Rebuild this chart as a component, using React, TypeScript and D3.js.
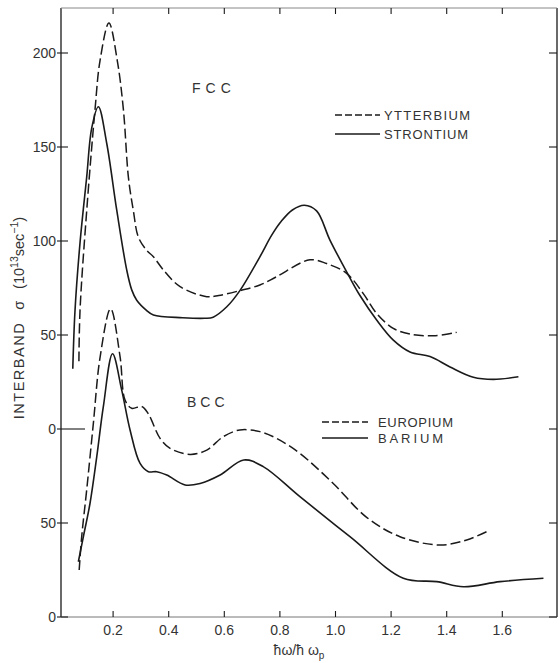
import React from "react";
import * as d3 from "d3";

// Interband conductivity curves, photon energy in units of the plasma energy.
// FCC metals are read against the upper scale, BCC metals against the lower one.
const ytterbium: [number, number][] = [
  [0.077, 36], [0.081, 63], [0.105, 116], [0.135, 170], [0.153, 196], [0.185, 216],
  [0.215, 196], [0.237, 170], [0.255, 134], [0.273, 116], [0.291, 102], [0.321, 95],
  [0.345, 91.6], [0.381, 84.6], [0.441, 75.7], [0.537, 70.4], [0.58, 71], [0.656, 73.6],
  [0.728, 76.6], [0.788, 81], [0.908, 90], [0.968, 88], [1.04, 82.8], [1.1, 72],
  [1.148, 61.5], [1.208, 53.5], [1.268, 50.5], [1.352, 49.6], [1.436, 51.4],
];

const strontium: [number, number][] = [
  [0.055, 32], [0.063, 63], [0.081, 99], [0.105, 134], [0.123, 160], [0.147, 171.4],
  [0.177, 152], [0.213, 116.5], [0.249, 84.6], [0.267, 74], [0.285, 68.5], [0.321, 63],
  [0.345, 60.6], [0.45, 59.2], [0.53, 58.9], [0.56, 59.5], [0.609, 65], [0.656, 73.6],
  [0.728, 91.6], [0.77, 103], [0.805, 110.5], [0.845, 116.5], [0.888, 119], [0.932, 116],
  [0.98, 100.5], [1.046, 82], [1.088, 71], [1.148, 58], [1.208, 47.3], [1.268, 41],
  [1.34, 38.5], [1.412, 33], [1.496, 27.5], [1.568, 26.4], [1.658, 27.8],
];

const europium: [number, number][] = [
  [0.078, 25], [0.087, 42.7], [0.105, 67.6], [0.129, 103], [0.153, 138], [0.191, 164],
  [0.225, 138.5], [0.243, 115.4], [0.267, 111], [0.303, 112], [0.327, 108], [0.369, 95],
  [0.405, 89.7], [0.477, 86.5], [0.537, 88.8], [0.596, 95.9], [0.656, 99.5], [0.728, 98.6],
  [0.788, 95], [0.872, 87], [0.992, 71], [1.112, 53], [1.232, 42.7], [1.376, 38.3],
  [1.472, 41], [1.544, 45.4],
];

const barium: [number, number][] = [
  [0.075, 29.4], [0.093, 42.7], [0.117, 60.5], [0.141, 85], [0.165, 112], [0.198, 140],
  [0.231, 120.7], [0.261, 99.5], [0.297, 81.7], [0.327, 77.3], [0.357, 77.3], [0.393, 75.5],
  [0.459, 70.2], [0.513, 71], [0.585, 75.5], [0.67, 83.5], [0.74, 80], [0.872, 64],
  [1.052, 42.7], [1.244, 20.6], [1.364, 18.8], [1.46, 16.1], [1.592, 18.8], [1.748, 20.6],
];

const xTicks = [0.2, 0.4, 0.6, 0.8, 1.0, 1.2, 1.4, 1.6];
const xTickLabels = ["0.2", "0.4", "0.6", "0.8", "1.0", "1.2", "1.4", "1.6"];
const fccTicks = [0, 50, 100, 150, 200];
const bccTicks = [0, 50];

const W = 560;
const H = 663;
const frame = { left: 61, right: 557, top: 8, bottom: 617 };

const x = d3.scaleLinear().domain([0, 1.6]).range([57.5, 502.3]);
const yFcc = d3.scaleLinear().domain([0, 200]).range([429, 53]);
const yBcc = d3.scaleLinear().domain([0, 50]).range([617, 523]);

const ink = "#1a1a1a";
const font = "'Liberation Sans', Arial, sans-serif";
const dash = "10,4";

function makeLine(y: d3.ScaleLinear<number, number>) {
  return d3
    .line<[number, number]>()
    .x((d) => x(d[0]))
    .y((d) => y(d[1]))
    .curve(d3.curveCatmullRom.alpha(0.5));
}

export default function App() {
  const fccLine = makeLine(yFcc);
  const bccLine = makeLine(yBcc);

  const yTickItems = [
    ...fccTicks.map((v) => ({ y: yFcc(v), label: String(v), long: v === 0 })),
    ...bccTicks.map((v) => ({ y: yBcc(v), label: String(v), long: false })),
  ];

  return (
    <svg
      width={W}
      height={H}
      viewBox={`0 0 ${W} ${H}`}
      style={{ position: "absolute", left: 0, top: 0, background: "#fff" }}
    >
      <rect x={0} y={0} width={W} height={H} fill="#fff" />

      {/* frame */}
      <line x1={frame.left} y1={frame.top} x2={frame.left} y2={frame.bottom} stroke={ink} strokeWidth={1.3} />
      <line x1={frame.right} y1={frame.top} x2={frame.right} y2={frame.bottom} stroke={ink} strokeWidth={1.3} />
      <line x1={frame.left} y1={frame.bottom} x2={frame.right} y2={frame.bottom} stroke="#777" strokeWidth={1} />
      <line x1={frame.left} y1={frame.top} x2={frame.right} y2={frame.top} stroke="#888" strokeWidth={1} />

      {/* x ticks, bottom and top */}
      {xTicks.map((t, i) => (
        <g key={`xt${i}`}>
          <line x1={x(t)} x2={x(t)} y1={frame.bottom} y2={frame.bottom - 6} stroke={ink} strokeWidth={1.1} />
          <line x1={x(t)} x2={x(t)} y1={frame.top} y2={frame.top + 6} stroke={ink} strokeWidth={1.1} />
          <text
            x={x(t)}
            y={frame.bottom + 18}
            textAnchor="middle"
            fontFamily={font}
            fontSize={14}
            fill="#333"
          >
            {xTickLabels[i]}
          </text>
        </g>
      ))}

      {/* y ticks, left and right */}
      {yTickItems.map((t, i) => (
        <g key={`yt${i}`}>
          <line
            x1={frame.left - 4}
            x2={frame.left + (t.long ? 24 : 7)}
            y1={t.y}
            y2={t.y}
            stroke={ink}
            strokeWidth={1.1}
          />
          <line x1={frame.right - 8} x2={frame.right} y1={t.y} y2={t.y} stroke={ink} strokeWidth={1.1} />
          <text
            x={frame.left - 5}
            y={t.y}
            dy="0.36em"
            textAnchor="end"
            fontFamily={font}
            fontSize={14}
            fill="#333"
          >
            {t.label}
          </text>
        </g>
      ))}

      {/* curves */}
      <path d={fccLine(ytterbium) ?? ""} fill="none" stroke={ink} strokeWidth={1.5} strokeDasharray={dash} />
      <path d={fccLine(strontium) ?? ""} fill="none" stroke={ink} strokeWidth={1.6} />
      <path d={bccLine(europium) ?? ""} fill="none" stroke={ink} strokeWidth={1.5} strokeDasharray={dash} />
      <path d={bccLine(barium) ?? ""} fill="none" stroke={ink} strokeWidth={1.6} />

      {/* panel names */}
      <text x={192} y={88} dy="0.36em" fontFamily={font} fontSize={14} letterSpacing={5} fill="#333">
        FCC
      </text>
      <text x={187} y={402} dy="0.36em" fontFamily={font} fontSize={14} letterSpacing={4} fill="#333">
        BCC
      </text>

      {/* legends */}
      <line x1={335} x2={380} y1={115} y2={115} stroke={ink} strokeWidth={1.3} strokeDasharray="7,3" />
      <text x={384} y={115} dy="0.36em" fontFamily={font} fontSize={13} textLength={86} fill="#333">
        YTTERBIUM
      </text>
      <line x1={335} x2={380} y1={134} y2={134} stroke={ink} strokeWidth={1.3} />
      <text x={384} y={134} dy="0.36em" fontFamily={font} fontSize={13} textLength={84} fill="#333">
        STRONTIUM
      </text>

      <line x1={322} x2={368} y1={422} y2={422} stroke={ink} strokeWidth={1.3} strokeDasharray="7,3" />
      <text x={378} y={422} dy="0.36em" fontFamily={font} fontSize={13} textLength={75} fill="#333">
        EUROPIUM
      </text>
      <line x1={322} x2={368} y1={438} y2={438} stroke={ink} strokeWidth={1.3} />
      <text x={378} y={438} dy="0.36em" fontFamily={font} fontSize={13} textLength={65} fill="#333">
        BARIUM
      </text>

      {/* axis titles */}
      <text
        transform="translate(24,318) rotate(-90)"
        textAnchor="middle"
        fontFamily={font}
        fontSize={14.5}
        fill="#333"
      >
        <tspan letterSpacing={1.5}>INTERBAND</tspan>
        <tspan dx={12}>σ</tspan>
        <tspan dx={12}>(10</tspan>
        <tspan dy={-6} fontSize={10.5}>13</tspan>
        <tspan dy={6}>sec</tspan>
        <tspan dy={-6} fontSize={10.5}>−1</tspan>
        <tspan dy={6}>)</tspan>
      </text>
      <text x={299} y={655} textAnchor="middle" fontFamily={font} fontSize={14} fill="#333">
        <tspan>ħω/ħ ω</tspan>
        <tspan dy={4} fontSize={10}>p</tspan>
      </text>
    </svg>
  );
}
